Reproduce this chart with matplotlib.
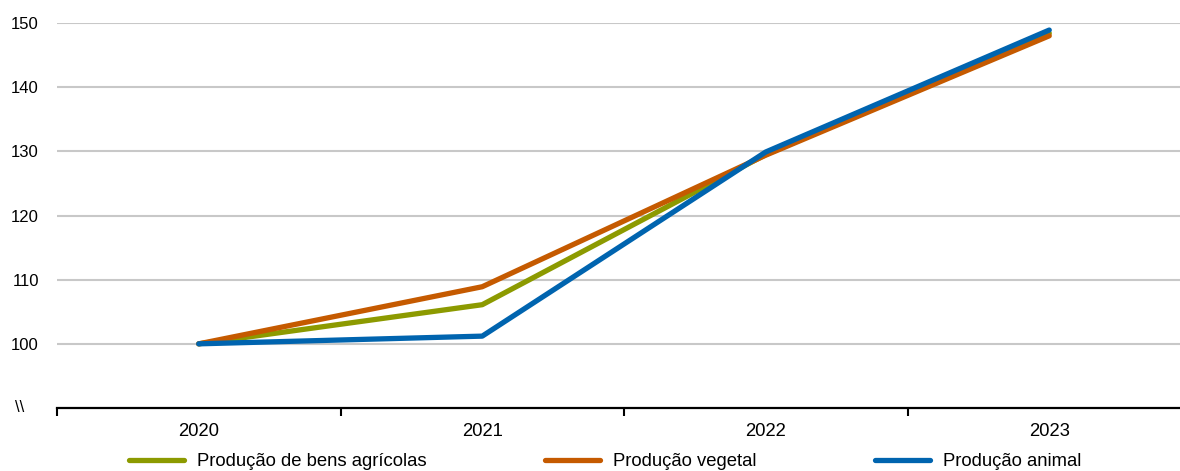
import matplotlib.pyplot as plt

plt.rcParams["font.family"] = ["Liberation Sans", "DejaVu Sans"]

years = ["2020", "2021", "2022", "2023"]
bens_agricolas = [100.0, 106.1, 129.5, 148.4]
producao_vegetal = [100.0, 108.9, 129.4, 148.0]
producao_animal = [100.0, 101.2, 129.9, 148.9]

series = [
    ("Produção de bens agrícolas", bens_agricolas, "#8c9a00"),
    ("Produção vegetal", producao_vegetal, "#c55a00"),
    ("Produção animal", producao_animal, "#0064af"),
]

fig = plt.figure(figsize=(11.8, 4.71), dpi=100)
ax = fig.add_axes([57 / 1180, 63 / 471, 1134 / 1180, 385 / 471])

x = list(range(len(years)))
for label, vals, color in series:
    ax.plot(x, vals, color=color, lw=3.8, label=label, solid_capstyle="round", clip_on=False)

ax.set_xlim(-0.5, 3.5)
ax.set_ylim(90, 150)
ax.set_yticks([100, 110, 120, 130, 140, 150])
ax.yaxis.grid(True, color="#c8c8c8", lw=1.5)
ax.set_axisbelow(True)
ax.tick_params(axis="y", length=0, labelsize=12, pad=13)

ax.set_xticks([-0.5, 0.5, 1.5, 2.5, 3.5])
ax.set_xticklabels([])
ax.set_xticks(x, minor=True)
ax.set_xticklabels(years, minor=True)
ax.tick_params(axis="x", which="major", direction="out", length=6, width=1.5, color="black")
ax.tick_params(axis="x", which="minor", length=0, labelsize=13.3, pad=11)

for s in ["top", "right", "left"]:
    ax.spines[s].set_visible(False)
ax.spines["bottom"].set_linewidth(1.6)

fig.text(15 / 1180, 1 - 408 / 471, "\\\\", fontsize=12, va="center", ha="left")

fig.legend(loc="center", bbox_to_anchor=(605 / 1180, 1 - 462 / 471), ncol=3,
           frameon=False, fontsize=13.3, handlelength=3.0, handletextpad=0.7,
           columnspacing=6.4)

fig.savefig("out.png", dpi=100)
